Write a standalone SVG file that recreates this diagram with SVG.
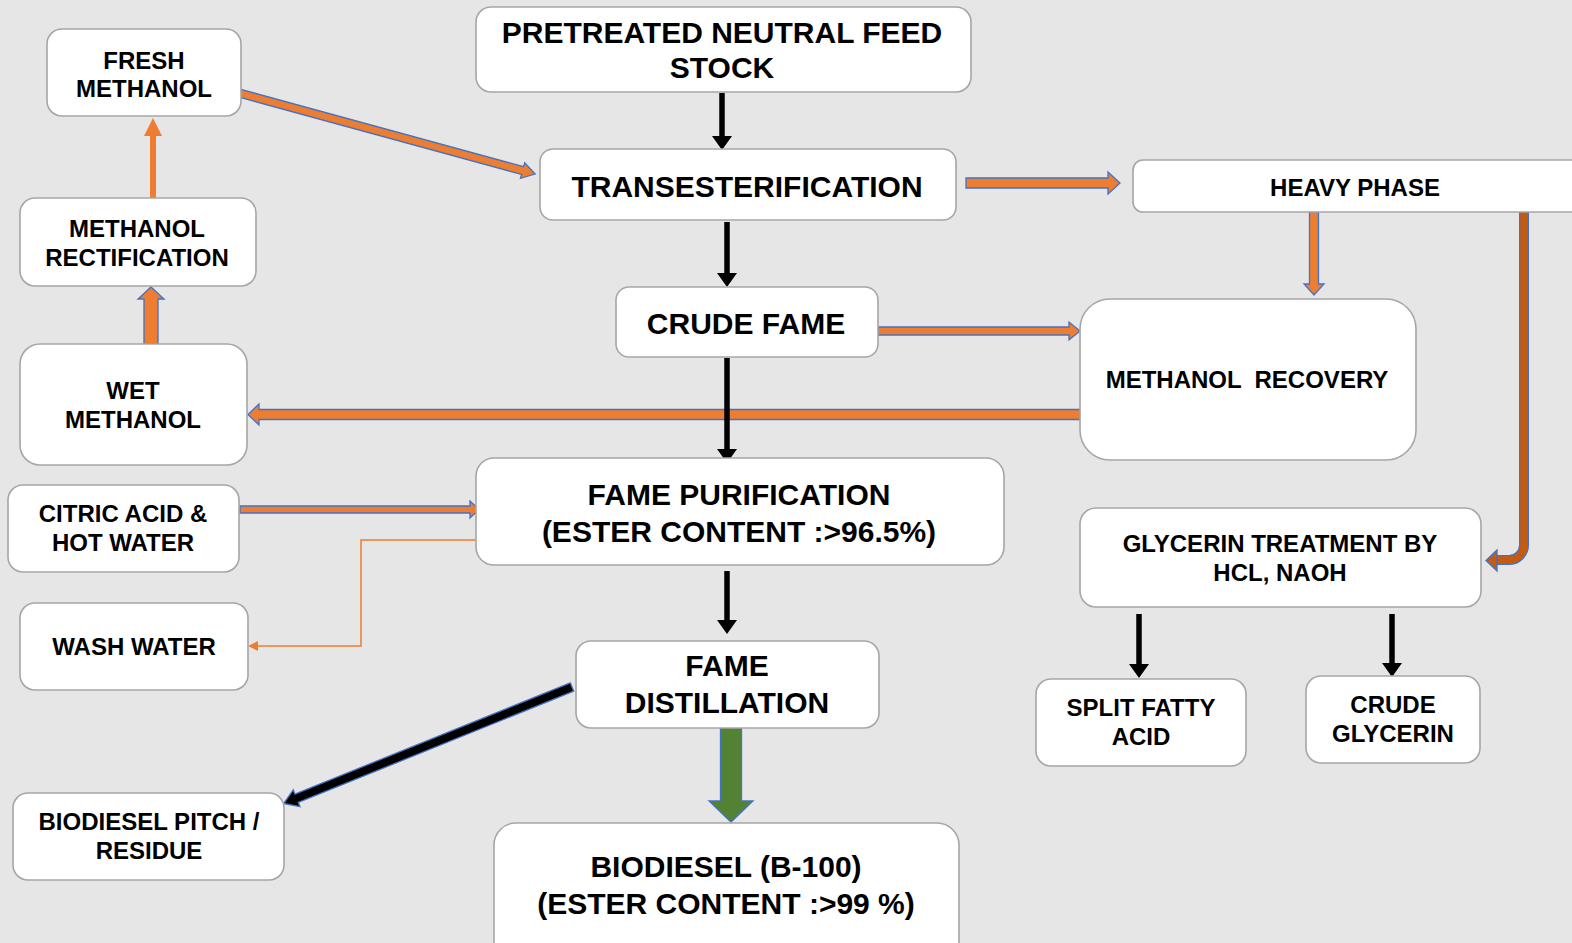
<svg xmlns="http://www.w3.org/2000/svg" width="1572" height="943" viewBox="0 0 1572 943">
<defs>
<style>
.box{fill:#ffffff;stroke:#a6a6a6;stroke-width:1.6}
.t{font-family:"Liberation Sans",Arial,sans-serif;font-weight:bold;fill:#000;text-anchor:middle}
.s{font-size:24px}
.b{font-size:30px}
.blk{stroke:#000;stroke-width:5.5;fill:none}
.blkh{fill:#000}
.ora{fill:#ed7d31;stroke:#4472c4;stroke-width:1.3}
</style>
</defs>
<rect width="1572" height="943" fill="#e6e6e6"/>

<g id="connectors">
  <!-- black straight arrows -->
  <g>
    <line class="blk" x1="722" y1="93" x2="722" y2="137"/><polygon class="blkh" points="712,136 732,136 722,150"/>
    <line class="blk" x1="727" y1="222" x2="727" y2="274"/><polygon class="blkh" points="717,273 737,273 727,287"/>
    <line class="blk" x1="727" y1="571" x2="727" y2="621"/><polygon class="blkh" points="717,620 737,620 727,634"/>
    <line class="blk" x1="1139" y1="614" x2="1139" y2="665"/><polygon class="blkh" points="1129,664 1149,664 1139,678"/>
    <line class="blk" x1="1392" y1="614" x2="1392" y2="664"/><polygon class="blkh" points="1382,663 1402,663 1392,677"/>
  </g>
  <!-- fresh methanol -> transesterification -->
  <polygon class="ora" transform="translate(239,93) rotate(15.3)" points="0,-4 294,-4 294,-8 307,0 294,8 294,4 0,4"/>
  <!-- methanol rectification -> fresh methanol -->
  <line x1="153" y1="198" x2="153" y2="134" stroke="#ed7d31" stroke-width="6"/>
  <polygon points="144,136 162,136 153,118" fill="#ed7d31"/>
  <!-- wet methanol -> methanol rectification -->
  <polygon class="ora" points="144,344 144,299 138,299 151,287 164,299 158,299 158,344"/>
  <!-- transesterification -> heavy phase -->
  <polygon class="ora" points="966,178 1108,178 1108,172 1120,183 1108,194 1108,188 966,188"/>
  <!-- heavy phase -> methanol recovery -->
  <polygon class="ora" points="1309.5,212 1318.5,212 1318.5,284 1324,284 1314,295 1304,284 1309.5,284"/>
  <!-- heavy phase -> glycerin treatment (bent) -->
  <path d="M1524,212 V545 A15,15 0 0 1 1509,560 H1496" fill="none" stroke="#4472c4" stroke-width="10"/>
  <path d="M1524,212 V545 A15,15 0 0 1 1509,560 H1495" fill="none" stroke="#c55a11" stroke-width="7.5"/>
  <polygon points="1497,550 1486,560.5 1497,571" fill="#c55a11" stroke="#4472c4" stroke-width="1.3"/>
  <!-- crude fame -> methanol recovery -->
  <polygon class="ora" points="878,327 1069,327 1069,322 1080,331 1069,340 1069,335 878,335"/>
  <!-- methanol recovery -> wet methanol -->
  <polygon class="ora" points="1080,409.5 259,409.5 259,404 248,414.5 259,425 259,419.5 1080,419.5"/>
  <!-- black line over orange -->
  <line class="blk" x1="727" y1="358" x2="727" y2="450"/><polygon class="blkh" points="717,449 737,449 727,463"/>
  <!-- citric acid -> fame purification -->
  <polygon class="ora" points="240,506 470,506 470,501 479,509.5 470,518 470,513 240,513"/>
  <!-- fame purification -> wash water -->
  <polyline points="476,540 361,540 361,646 257,646" fill="none" stroke="#ed7d31" stroke-width="1.5"/>
  <polygon points="258,641 248,646 258,651" fill="#ed7d31"/>
  <!-- fame distillation -> biodiesel pitch -->
  <polygon transform="translate(572,687) rotate(158)" points="0,-4.5 297,-4.5 297,-9 311,0 297,9 297,4.5 0,4.5" fill="#000" stroke="#4472c4" stroke-width="1.3"/>
  <!-- fame distillation -> biodiesel -->
  <polygon points="720.5,726 741.5,726 741.5,801 753,801 731,822 709,801 720.5,801" fill="#548235" stroke="#4472c4" stroke-width="1.3"/>
</g>

<g id="fresh-methanol"><rect class="box" x="47" y="29" width="194" height="87" rx="15"/>
<text class="t s" x="144" y="69">FRESH</text><text class="t s" x="144" y="97">METHANOL</text></g>

<g id="pretreated-feed"><rect class="box" x="476" y="7" width="495" height="85" rx="15"/>
<text class="t b" x="722" y="43">PRETREATED NEUTRAL FEED</text><text class="t b" x="722" y="78">STOCK</text></g>

<g id="transesterification"><rect class="box" x="540" y="149" width="416" height="71" rx="13"/>
<text class="t b" x="747" y="197">TRANSESTERIFICATION</text></g>

<g id="heavy-phase"><rect class="box" x="1133" y="160" width="450" height="52" rx="10"/>
<text class="t s" x="1355" y="196">HEAVY PHASE</text></g>

<g id="methanol-rectification"><rect class="box" x="20" y="198" width="236" height="88" rx="15"/>
<text class="t s" x="137" y="237">METHANOL</text><text class="t s" x="137" y="266">RECTIFICATION</text></g>

<g id="crude-fame"><rect class="box" x="616" y="287" width="262" height="70" rx="13"/>
<text class="t b" x="746" y="334">CRUDE FAME</text></g>

<g id="methanol-recovery"><rect class="box" x="1080" y="299" width="336" height="161" rx="30"/>
<text class="t s" x="1247" y="388" xml:space="preserve">METHANOL  RECOVERY</text></g>

<g id="wet-methanol"><rect class="box" x="20" y="344" width="227" height="121" rx="20"/>
<text class="t s" x="133" y="399">WET</text><text class="t s" x="133" y="428">METHANOL</text></g>

<g id="citric-acid"><rect class="box" x="8" y="485" width="231" height="87" rx="15"/>
<text class="t s" x="123" y="522">CITRIC ACID &amp;</text><text class="t s" x="123" y="551">HOT WATER</text></g>

<g id="fame-purification"><rect class="box" x="476" y="458" width="528" height="107" rx="18"/>
<text class="t b" x="739" y="505">FAME PURIFICATION</text><text class="t b" x="739" y="542">(ESTER CONTENT :&gt;96.5%)</text></g>

<g id="glycerin-treatment"><rect class="box" x="1080" y="508" width="401" height="99" rx="16"/>
<text class="t s" x="1280" y="552">GLYCERIN TREATMENT BY</text><text class="t s" x="1280" y="581">HCL, NAOH</text></g>

<g id="wash-water"><rect class="box" x="20" y="603" width="228" height="87" rx="15"/>
<text class="t s" x="134" y="655">WASH WATER</text></g>

<g id="fame-distillation"><rect class="box" x="576" y="641" width="303" height="87" rx="15"/>
<text class="t b" x="727" y="676">FAME</text><text class="t b" x="727" y="713">DISTILLATION</text></g>

<g id="split-fatty-acid"><rect class="box" x="1036" y="679" width="210" height="87" rx="15"/>
<text class="t s" x="1141" y="716">SPLIT FATTY</text><text class="t s" x="1141" y="745">ACID</text></g>

<g id="crude-glycerin"><rect class="box" x="1306" y="676" width="174" height="87" rx="15"/>
<text class="t s" x="1393" y="713">CRUDE</text><text class="t s" x="1393" y="742">GLYCERIN</text></g>

<g id="biodiesel-pitch"><rect class="box" x="13" y="793" width="271" height="87" rx="15"/>
<text class="t s" x="149" y="830">BIODIESEL PITCH /</text><text class="t s" x="149" y="859">RESIDUE</text></g>

<g id="biodiesel"><rect class="box" x="494" y="823" width="465" height="140" rx="22"/>
<text class="t b" x="726" y="877">BIODIESEL (B-100)</text><text class="t b" x="726" y="914">(ESTER CONTENT :&gt;99 %)</text></g>
</svg>
